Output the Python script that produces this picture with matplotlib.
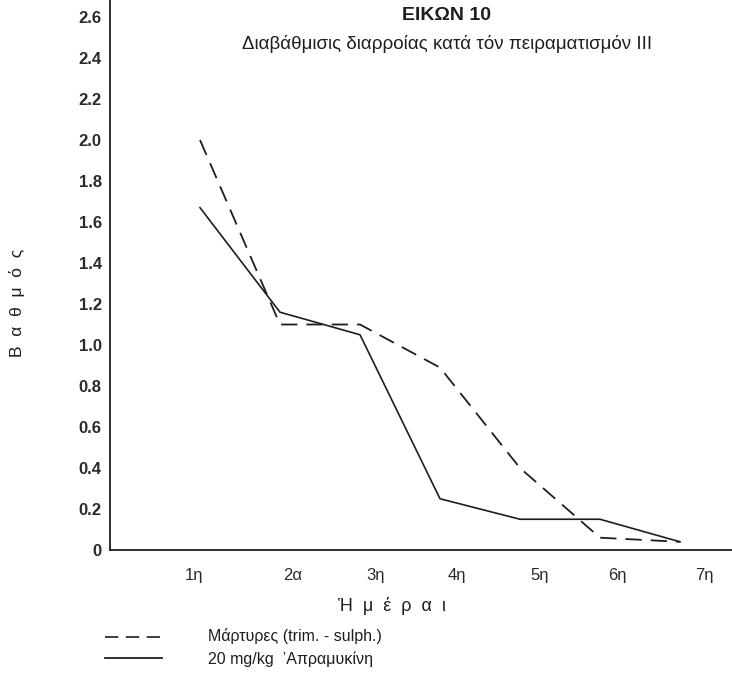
import matplotlib
matplotlib.use("Agg")
import matplotlib.pyplot as plt
from matplotlib.lines import Line2D
import matplotlib.transforms as mtransforms

# ---- data ----
days = ["1η", "2α", "3η", "4η", "5η", "6η", "7η"]
controls = [2.0, 1.10, 1.10, 0.89, 0.40, 0.06, 0.04]      # Μάρτυρες (dashed)
apramycin = [1.67, 1.16, 1.05, 0.25, 0.15, 0.15, 0.04]    # 20 mg/kg Απραμυκίνη (solid)
yticks = [0.0, 0.2, 0.4, 0.6, 0.8, 1.0, 1.2, 1.4, 1.6, 1.8, 2.0, 2.2, 2.4, 2.6]
ytick_labels = ["0", "0.2", "0.4", "0.6", "0.8", "1.0", "1.2", "1.4",
                "1.6", "1.8", "2.0", "2.2", "2.4", "2.6"]
series_labels = ["Μάρτυρες (trim. - sulph.)", "20 mg/kg  ’Απραμυκίνη"]

# hand-lettered label placement (pixels to the right of each day position)
label_shift_px = [-6, 13, 16, 17, 20, 17, 24]

FONT = ["Liberation Sans", "DejaVu Sans"]
plt.rcParams["font.family"] = FONT
INK = "#1e1e1e"

fig = plt.figure(figsize=(7.32, 6.73), dpi=100)
ax = fig.add_axes([110 / 732, 1 - 550 / 673, 1 - 110 / 732, 550 / 673])

x = list(range(1, len(days) + 1))
ax.plot(x, controls, color=INK, lw=1.3, dashes=(9, 5))
ax.plot(x, apramycin, color=INK, lw=1.2)

ax.set_xlim(-0.125, 7.65)
ax.set_ylim(0, 2.683)

for s in ["top", "right"]:
    ax.spines[s].set_visible(False)
for s in ["left", "bottom"]:
    ax.spines[s].set_linewidth(1.3)
    ax.spines[s].set_color(INK)

ax.set_yticks(yticks)
ax.set_yticklabels(ytick_labels, fontsize=12, fontweight="bold", color="#2a2a2a")
ax.set_xticks(x)
ax.set_xticklabels(days, fontsize=12, color="#2a2a2a")
ax.tick_params(axis="both", length=0)
ax.tick_params(axis="y", pad=6)
ax.tick_params(axis="x", pad=13)
for lab, sh in zip(ax.get_xticklabels(), label_shift_px):
    off = mtransforms.ScaledTranslation(sh / 100, 0, fig.dpi_scale_trans)
    lab.set_transform(lab.get_transform() + off)

# Titles
fig.text(446 / 732, 1 - 16 / 673, "ΕΙΚΩΝ 10", ha="center", va="center",
         fontsize=14, fontweight="bold", color=INK)
fig.text(447 / 732, 1 - 44 / 673, "Διαβάθμισις διαρροίας κατά τόν πειραματισμόν III",
         ha="center", va="center", fontsize=13.5, color=INK)

# Axis labels
fig.text(17 / 732, 1 - 303 / 673, "Β  α  θ  μ  ό  ς", rotation=90, ha="center", va="center",
         fontsize=12.5, color=INK)
fig.text(392 / 732, 1 - 606 / 673, "Ἡ  μ  έ  ρ  α  ι", ha="center", va="center",
         fontsize=13, color=INK)

# Legend
fig.add_artist(Line2D([105 / 732, 162 / 732], [1 - 637 / 673] * 2, color=INK,
                      lw=1.2, dashes=(8, 4.5), transform=fig.transFigure))
fig.add_artist(Line2D([105 / 732, 162 / 732], [1 - 658 / 673] * 2, color=INK,
                      lw=1.3, transform=fig.transFigure))
fig.text(208 / 732, 1 - 636 / 673, series_labels[0], ha="left", va="center",
         fontsize=11.5, color=INK)
fig.text(208 / 732, 1 - 659 / 673, series_labels[1], ha="left", va="center",
         fontsize=11.5, color=INK)

fig.savefig("out.png", dpi=100)
